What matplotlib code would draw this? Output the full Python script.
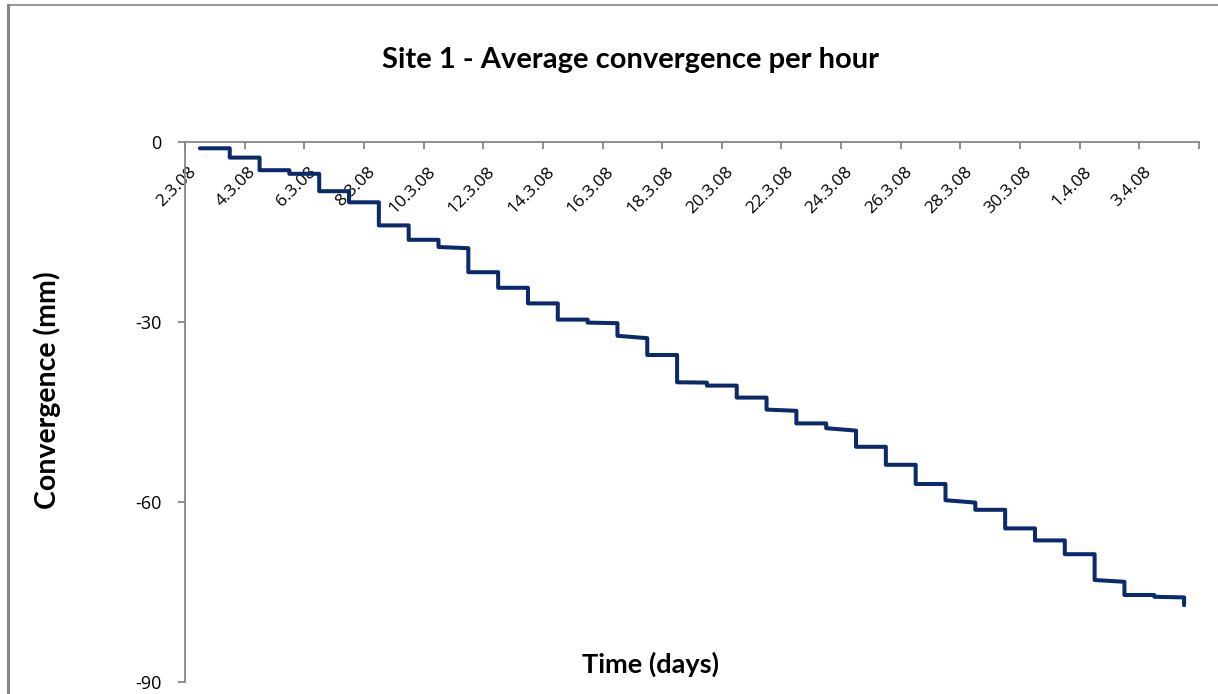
import matplotlib
matplotlib.use("Agg")
import matplotlib.pyplot as plt
from matplotlib.lines import Line2D

# ---- data (days since 2.3.08) ----
days = list(range(0, 34))
# value at the start of each day (after the daily step)
start_vals = [-1.05, -2.6, -4.7, -5.3, -8.2, -10.05, -13.9, -16.3, -17.5, -21.7,
              -24.3, -26.9, -29.6, -30.1, -32.3, -35.5, -40.05, -40.6, -42.6, -44.6,
              -46.9, -47.7, -50.8, -53.8, -57.0, -59.7, -61.3, -64.4, -66.4, -68.7,
              -73.0, -75.5, -75.8, -77.2]
# value at the end of each day (just before the next step)
end_vals = [-1.05, -2.6, -4.7, -5.3, -8.2, -10.05, -13.9, -16.3, -17.7, -21.7,
            -24.3, -26.9, -29.6, -30.2, -32.7, -35.5, -40.1, -40.6, -42.6, -44.8,
            -46.9, -48.1, -50.8, -53.8, -57.0, -60.1, -61.3, -64.4, -66.4, -68.7,
            -73.3, -75.5, -75.9, -77.2]
tick_labels = ["2.3.08", "4.3.08", "6.3.08", "8.3.08", "10.3.08", "12.3.08",
               "14.3.08", "16.3.08", "18.3.08", "20.3.08", "22.3.08", "24.3.08",
               "26.3.08", "28.3.08", "30.3.08", "1.4.08", "3.4.08"]
y_ticks = [0, -30, -60, -90]

# build stepped path from the daily readings
xs, ys = [], []
for i, d in enumerate(days):
    xs.append(d); ys.append(start_vals[i])
    if i < len(days) - 1:
        xs.append(days[i + 1]); ys.append(end_vals[i])

plt.rcParams['font.family'] = ['Lato', 'DejaVu Sans']
tick_font = ['Open Sans', 'DejaVu Sans']

W, H = 1218, 694
fig = plt.figure(figsize=(W / 100, H / 100), dpi=100)
ax = fig.add_axes([185 / W, 1 - 682 / H, 1014 / W, 540 / H])

axis_col = '#868686'
line_col = '#0b2a6b'

ax.plot(xs, ys, color=line_col, lw=2.9, solid_joinstyle='round',
        solid_capstyle='round', zorder=3)

ax.set_xlim(-0.5, 33.5)
ax.set_ylim(-90, 0)

for s in ['top', 'right']:
    ax.spines[s].set_visible(False)
ax.spines['bottom'].set_position(('data', 0))
ax.spines['bottom'].set_color(axis_col)
ax.spines['left'].set_color(axis_col)
ax.spines['bottom'].set_linewidth(1.3)
ax.spines['left'].set_linewidth(1.3)

# major ticks: marks between categories
major = [d - 0.5 for d in range(0, 35, 2)]
ax.set_xticks(major)
ax.set_xticklabels([''] * len(major))
ax.tick_params(axis='x', which='major', direction='out', length=5, width=1.3,
               color=axis_col)
# labels at the dates
ax.set_xticks(days[::2][:len(tick_labels)], minor=True)
ax.set_xticklabels(tick_labels, minor=True, rotation=45, ha='right',
                   fontsize=12.5, color='black', family=tick_font)
ax.tick_params(axis='x', which='minor', length=0, pad=16)

ax.set_yticks(y_ticks)
ax.set_yticklabels([str(v) for v in y_ticks], fontsize=13, family=tick_font)
ax.tick_params(axis='y', direction='out', length=5, width=1.3, color=axis_col,
               pad=12)

fig.text(630 / W, 1 - 60 / H, 'Site 1 - Average convergence per hour',
         ha='center', va='center', fontsize=21, fontweight='bold')
fig.text(47 / W, 1 - 390 / H, 'Convergence (mm)', rotation=90,
         ha='center', va='center', fontsize=20.5, fontweight='bold')
fig.text(651 / W, 1 - 664 / H, 'Time (days)', ha='center', va='center',
         fontsize=19.5, fontweight='bold')

# chart-area border (only top and left edges visible in the crop)
fig.add_artist(Line2D([7.5 / W, 1.01], [1 - 5 / H, 1 - 5 / H],
                      transform=fig.transFigure, color=axis_col, lw=1.2))
fig.add_artist(Line2D([7.5 / W, 7.5 / W], [1 - 5 / H, -0.01],
                      transform=fig.transFigure, color=axis_col, lw=2.2))

fig.savefig('out.png', dpi=100)
